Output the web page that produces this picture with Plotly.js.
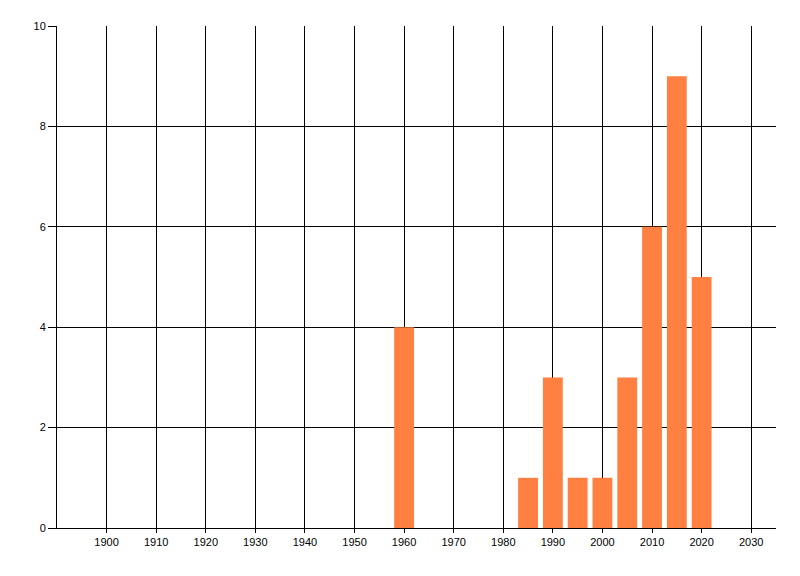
<!DOCTYPE html>
<html>
<head>
<meta charset="utf-8">
<script src="https://cdn.plot.ly/plotly-3.0.1.min.js"></script>
<style>html,body{margin:0;padding:0;background:#fff;}#chart{width:800px;height:576px;}</style>
</head>
<body>
<div id="chart"></div>
<script>
const years = [1960, 1985, 1990, 1995, 2000, 2005, 2010, 2015, 2020];
const counts = [4, 1, 3, 1, 1, 3, 6, 9, 5];
const xTickVals = [1900, 1910, 1920, 1930, 1940, 1950, 1960, 1970, 1980, 1990, 2000, 2010, 2020, 2030];
const yTickVals = [0, 2, 4, 6, 8, 10];

const trace = {
  type: 'bar',
  x: years,
  y: counts,
  width: 4,
  marker: {color: 'rgb(255,128,64)', line: {width: 0}},
  hoverinfo: 'x+y'
};

const layout = {
  width: 800,
  height: 576,
  margin: {l: 57, r: 24, t: 26, b: 48},
  paper_bgcolor: '#ffffff',
  plot_bgcolor: '#ffffff',
  showlegend: false,
  font: {family: 'Liberation Sans, Arial, sans-serif', size: 11, color: '#000000'},
  xaxis: {
    range: [1890, 2035],
    tickmode: 'array',
    tickvals: xTickVals,
    ticktext: xTickVals.map(String),
    showgrid: true,
    gridcolor: '#000000',
    gridwidth: 1,
    zeroline: false,
    showline: true,
    linecolor: '#000000',
    linewidth: 1,
    ticks: 'outside',
    ticklen: 4,
    tickcolor: '#000000',
    tickfont: {family: 'Liberation Sans, Arial, sans-serif', size: 11, color: '#000000'},
    fixedrange: true
  },
  yaxis: {
    range: [0, 10],
    tickmode: 'array',
    tickvals: yTickVals,
    ticktext: yTickVals.map(String),
    showgrid: true,
    gridcolor: '#000000',
    gridwidth: 1,
    zeroline: false,
    showline: true,
    linecolor: '#000000',
    linewidth: 1,
    ticks: 'outside',
    ticklen: 8,
    tickcolor: '#000000',
    tickfont: {family: 'Liberation Sans, Arial, sans-serif', size: 11, color: '#000000'},
    fixedrange: true
  }
};

Plotly.newPlot('chart', [trace], layout, {displayModeBar: false, staticPlot: true});
</script>
</body>
</html>
